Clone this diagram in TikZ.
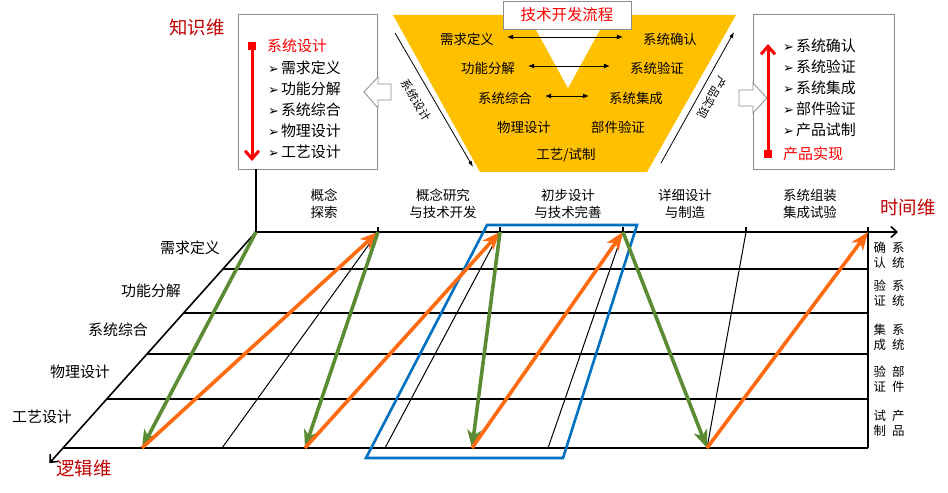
\documentclass[tikz,border=0pt]{standalone}
\usepackage{fontspec}
\setmainfont{Noto Sans CJK SC}
\newfontfamily\dejavu{DejaVu Sans}
\usetikzlibrary{arrows.meta,calc}
\definecolor{dimred}{HTML}{C00000}
\definecolor{brightred}{HTML}{FF0000}
\definecolor{gold}{HTML}{FFC000}
\definecolor{leafgreen}{HTML}{5B8C33}
\definecolor{flame}{HTML}{FF6A10}
\definecolor{frameblue}{HTML}{0070C0}
\definecolor{boxgray}{HTML}{8C8C8C}
\newcommand{\bul}{{\dejavu\fontsize{13}{13}\selectfont ➢}\hspace{2bp}}
\newcommand{\charpair}[4]{#1\hspace{6bp}#2\\#3\hspace{6bp}#4}

\begin{document}
\begin{tikzpicture}[x=1bp,y=-1bp,
  dimlab/.style={font=\fontsize{18.5}{20}\selectfont,dimred,inner sep=0pt},
  infobox/.style={draw=boxgray,line width=0.8bp,fill=white,inner sep=0pt},
  itemtxt/.style={font=\fontsize{15}{17}\selectfont,inner sep=0pt},
  redtxt/.style={font=\fontsize{15}{17}\selectfont,brightred,inner sep=0pt},
  redsq/.style={fill=brightred,minimum size=8bp,inner sep=0pt},
  redarr/.style={brightred,line width=3bp,-{Straight Barb[length=8bp,width=14bp]}},
  shapearr/.style={draw=boxgray,line width=0.8bp,fill=white,line join=miter},
  titlebox/.style={draw=boxgray,line width=0.8bp,fill=white,text=brightred,
                   font=\fontsize{15.5}{17}\selectfont,minimum width=128bp,minimum height=28bp},
  vtxt/.style={font=\fontsize{13.5}{15}\selectfont,inner sep=0pt},
  pairarr/.style={line width=0.9bp,{Latex[length=6bp,width=5bp]}-{Latex[length=6bp,width=5bp]},
                  shorten <=13bp,shorten >=20bp},
  thinarr/.style={line width=0.8bp,-{Latex[length=6bp,width=4bp]}},
  slantlab/.style={font=\fontsize{11.5}{13}\selectfont,inner sep=0pt},
  phaselab/.style={font=\fontsize{13.5}{17}\selectfont,align=center,inner sep=0pt},
  rowlab/.style={font=\fontsize{15}{17}\selectfont,inner sep=0pt},
  pairlab/.style={font=\fontsize{12.5}{15}\selectfont,align=center,inner sep=0pt},
  gridline/.style={line width=1.6bp,black},
  rail/.style={line width=1bp,black},
  axisarr/.style={line width=1.6bp,black,-{Straight Barb[length=6bp,width=11bp]}},
  greenarr/.style={line width=3.6bp,leafgreen,-{Stealth[length=18bp,width=14bp,inset=5bp]}},
  orangearr/.style={line width=3.6bp,flame,-{Stealth[length=18bp,width=14bp,inset=5bp]}},
  bluebox/.style={frameblue,line width=2.6bp,line join=miter}
]
\useasboundingbox (0,0) rectangle (948,493);

% knowledge dimension: design side
\node[dimlab] (kdim) at (197,27) {知识维};
\node[infobox,minimum width=139bp,minimum height=155bp] (lbox) at (307.5,91.5) {};
\draw[shapearr] (364,92) -- (378,77) -- (378,84) -- (391,84) -- (391,100)
  -- (378,100) -- (378,108) -- cycle;
\node[redsq] (lsq) at (252,46) {};
\coordinate (lsqend) at (252,161);
\draw[redarr] (lsq) -- (lsqend);
\node[redtxt,anchor=west] (lhead) at (267,46) {系统设计};
\foreach \t [count=\i] in {需求定义,功能分解,系统综合,物理设计,工艺设计}{
  \node[itemtxt,anchor=west] (li\i) at (268,47+21*\i) {\bul\t};
}

% knowledge dimension: realisation side
\node[infobox,minimum width=141bp,minimum height=155bp] (rbox) at (823.5,91.5) {};
\draw[shapearr] (767,98) -- (753,83) -- (753,90) -- (739,90) -- (739,106)
  -- (753,106) -- (753,113) -- cycle;
\node[redsq] (rsq) at (768,154) {};
\coordinate (rsqend) at (768,44);
\draw[redarr] (rsq) -- (rsqend);
\node[redtxt,anchor=west] (rhead) at (783,154) {产品实现};
\foreach \t [count=\i] in {系统确认,系统验证,系统集成,部件验证,产品试制}{
  \node[itemtxt,anchor=west] (ri\i) at (783,25+21*\i) {\bul\t};
}

% V process in the middle
\fill[gold] (393,15) -- (736,15) -- (647,172) -- (480,172) -- cycle;
\fill[white] (528,15) -- (608,15) -- (568,88) -- cycle;
\node[titlebox] (flow) at (567,15) {技术开发流程};
\node[vtxt] (va1) at (467,39) {需求定义};
\node[vtxt] (vb1) at (670,39) {系统确认};
\node[vtxt] (va2) at (488,68) {功能分解};
\node[vtxt] (vb2) at (657,68) {系统验证};
\node[vtxt] (va3) at (505,98) {系统综合};
\node[vtxt] (vb3) at (636,98) {系统集成};
\node[vtxt] (va4) at (524,127) {物理设计};
\node[vtxt] (vb4) at (618,127) {部件验证};
\node[vtxt] (vc) at (566,155) {工艺/试制};
\foreach \i in {1,2,3}{
  \draw[pairarr] ([yshift=2bp]va\i.east) -- ([yshift=2bp]vb\i.west);
}
\coordinate (dlA) at (395,33);
\coordinate (dlB) at (473,167);
\draw[thinarr] (dlA) -- (dlB);
\node[slantlab,rotate=-59] (dlT) at (416,100) {系统设计};
\coordinate (drA) at (661,163);
\coordinate (drB) at (734,32);
\draw[thinarr] (drA) -- (drB);
\node[slantlab,rotate=-120] (drT) at (712,98) {产品实现};

% time axis and phases
\foreach \x [count=\i from 0] in {256,378,500,623,746,868}
  \coordinate (t\i) at (\x,232);
\foreach \x [count=\i from 0] in {63,222,385,548,707,868}
  \coordinate (b\i) at (\x,448);
\coordinate (kfoot) at (256,169);
\coordinate (tend) at (898,232);
\coordinate (lend) at ($(t0)!1.07!(b0)$);
\draw[gridline] (kfoot) -- (t0);
\draw[axisarr] (t0) -- (tend);
\draw[axisarr] (t0) -- (lend);
\foreach \i in {1,...,5} \draw[gridline] (t\i) -- ++(0,-5);
\node[phaselab] (ph1) at (324,203.5) {概念\\探索};
\node[phaselab] (ph2) at (443,203.5) {概念研究\\与技术开发};
\node[phaselab] (ph3) at (568,203.5) {初步设计\\与技术完善};
\node[phaselab] (ph4) at (685,203.5) {详细设计\\与制造};
\node[phaselab] (ph5) at (810,203.5) {系统组装\\集成试验};
\node[dimlab] (tdim) at (908,208) {时间维};
\node[dimlab] (ldim) at (84,469) {逻辑维};

% logic grid
\foreach \f in {0.171,0.375,0.565,0.773,1}
  \draw[gridline] ($(t0)!\f!(b0)$) -- ($(t5)!\f!(b5)$);
\draw[gridline] (t5) -- (b5);
\foreach \i in {1,...,4} \draw[rail] (t\i) -- (b\i);
\foreach \t/\x/\y [count=\i] in {需求定义/190/248,功能分解/151/291,系统综合/118/330,
    物理设计/80/372,工艺设计/42/417}
  \node[rowlab] (row\i) at (\x,\y) {\t};
\foreach \a/\b/\c/\d/\y [count=\i] in {确/系/认/统/255.5,验/系/证/统/293.5,
    集/系/成/统/337,验/部/证/件/379.5,试/产/制/品/423.5}
  \node[pairlab] (chk\i) at (889,\y) {\charpair{\a}{\b}{\c}{\d}};

% iteration frame
\draw[bluebox] (487,225) -- (637,225) -- (563,458) -- (366,458) -- cycle;

% design / realisation iterations
\coordinate (p1) at (142,448);
\coordinate (p2) at (305,448);
\coordinate (p3) at (472,448);
\draw[greenarr] (t0) -- (p1);
\draw[orangearr] (p1) -- (t1);
\draw[greenarr] (t1) -- (p2);
\draw[orangearr] (p2) -- (t2);
\draw[greenarr] (t2) -- (p3);
\draw[orangearr] (p3) -- (t3);
\draw[greenarr] (t3) -- (b4);
\draw[orangearr] (b4) -- (t5);
\end{tikzpicture}
\end{document}
